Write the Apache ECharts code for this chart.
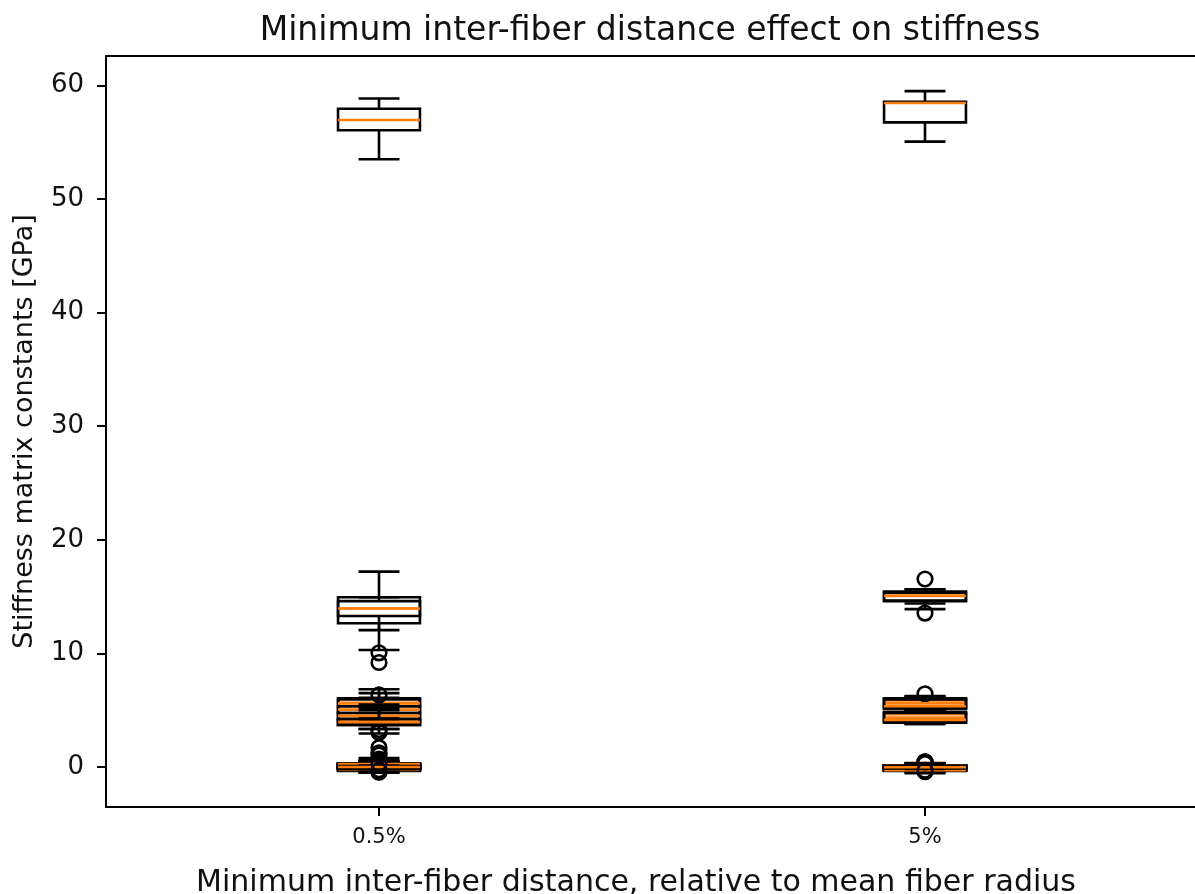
<!DOCTYPE html>
<html>
<head>
<meta charset="utf-8">
<script src="https://cdn.jsdelivr.net/npm/echarts@6/dist/echarts.min.js"></script>
<style>
  html, body { margin: 0; padding: 0; background: #ffffff; overflow: hidden; }
  #chart { width: 1195px; height: 894px; }
</style>
</head>
<body>
<div id="chart"></div>
<script>
// Minimum inter-fiber distance levels on the x axis
const categories = ['0.5%', '5%'];
const yTickValues = [0, 10, 20, 30, 40, 50, 60];

// Box statistics per stiffness constant: [lower whisker, Q1, median, Q3, upper whisker] in GPa
// Order: C11, C22, C33, C12, C13, C23, C44, C55, C66, then the twelve coupling terms
const summary05 = [
  [53.5, 56.05, 56.95, 57.95, 58.85],
  [12.05, 12.65, 13.95, 14.95, 17.2],
  [10.3, 13.3, 13.95, 14.6, 14.95],
  [4.3, 5.35, 5.65, 6.05, 6.85],
  [4.1, 4.75, 5.6, 5.95, 6.5],
  [3.7, 4.2, 5.05, 5.35, 6.1],
  [3.35, 3.7, 4.5, 4.75, 5.5],
  [2.95, 3.7, 3.95, 4.2, 5.0],
  [3.35, 3.75, 3.95, 4.25, 5.2],
  [-0.45, -0.35, -0.3, 0.3, 0.8],
  [-0.5, -0.3, -0.2, 0.25, 0.6],
  [-0.3, -0.2, -0.12, 0.2, 0.45],
  [-0.35, -0.15, -0.05, 0.15, 0.4],
  [-0.2, -0.1, 0.0, 0.12, 0.25],
  [-0.25, -0.05, 0.05, 0.15, 0.3],
  [-0.15, 0.0, 0.1, 0.2, 0.35],
  [-0.4, 0.05, 0.15, 0.25, 0.55],
  [-0.1, 0.1, 0.2, 0.3, 0.4],
  [-0.3, -0.25, -0.2, 0.0, 0.3],
  [-0.2, -0.15, 0.25, 0.3, 0.5],
  [-0.12, -0.08, 0.0, 0.08, 0.12]
];
const outliers05 = [
  [], [], [10.05, 9.2],
  [3.3, 3.05], [], [6.35], [], [], [],
  [1.25, 1.7], [], [0.7, 1.05], [-0.45], [0.45, -0.4], [0.55],
  [0.35, -0.3], [], [0.25, -0.25], [], [-0.35], [0.3, -0.28]
];

const summary5 = [
  [55.05, 56.75, 58.45, 58.55, 59.5],
  [13.9, 14.6, 15.1, 15.45, 15.65],
  [14.4, 14.65, 15.05, 15.35, 15.65],
  [5.05, 5.15, 5.85, 6.05, 6.25],
  [5.05, 5.2, 5.6, 6.0, 6.2],
  [5.0, 5.15, 5.35, 5.95, 6.15],
  [3.8, 3.95, 4.65, 4.85, 5.0],
  [3.8, 3.9, 4.35, 4.8, 4.95],
  [3.85, 4.0, 4.15, 4.75, 5.0],
  [-0.55, -0.35, -0.3, 0.15, 0.35],
  [-0.45, -0.3, -0.25, 0.1, 0.3],
  [-0.4, -0.3, -0.2, 0.05, 0.25],
  [-0.35, -0.25, -0.15, 0.1, 0.25],
  [-0.3, -0.2, -0.1, 0.08, 0.2],
  [-0.3, -0.15, -0.05, 0.12, 0.28],
  [-0.25, -0.1, 0.0, 0.15, 0.25],
  [-0.2, -0.05, 0.05, 0.15, 0.2],
  [-0.2, -0.25, 0.1, 0.15, 0.25],
  [-0.25, -0.3, -0.28, 0.1, 0.22],
  [-0.15, -0.1, -0.08, -0.02, 0.1],
  [-0.18, -0.12, -0.02, 0.05, 0.16]
];
const outliers5 = [
  [], [16.55], [13.55],
  [6.45], [], [], [], [], [],
  [0.4], [-0.4], [0.45], [-0.35], [0.3, -0.3], [],
  [0.35], [-0.35], [], [0.45], [], [-0.3]
];

const FONT = 'DejaVu Sans';
const TEXT = '#111111';
const LINE_W = 2.6;
const BOX_FRACTION = 0.15;   // box width relative to category spacing
const FLIER_R = 7.3;

// Flatten into one row per box: [category index, lo, q1, med, q3, hi]
const boxRows = [];
const boxOutliers = [];
[[summary05, outliers05], [summary5, outliers5]].forEach(function (pair, ci) {
  pair[0].forEach(function (row, i) {
    boxRows.push([ci].concat(row));
    boxOutliers.push(pair[1][i]);
  });
});

function renderBox(params, api) {
  const ci = api.value(0);
  const band = api.size([1, 0])[0];
  const half = band * BOX_FRACTION / 2;
  const capHalf = half / 2;
  const x = api.coord([ci, 0])[0];
  const yOf = function (v) { return api.coord([ci, v])[1]; };
  const lo = yOf(api.value(1));
  const q1 = yOf(api.value(2));
  const med = yOf(api.value(3));
  const q3 = yOf(api.value(4));
  const hi = yOf(api.value(5));
  const seg = function (x1, y1, x2, y2, color) {
    return { type: 'line', shape: { x1: x1, y1: y1, x2: x2, y2: y2 },
             style: { stroke: color, lineWidth: LINE_W, lineCap: 'butt' } };
  };
  const children = [
    seg(x, q1, x, lo, '#000'),
    seg(x, q3, x, hi, '#000'),
    seg(x - capHalf, lo, x + capHalf, lo, '#000'),
    seg(x - capHalf, hi, x + capHalf, hi, '#000'),
    { type: 'rect', shape: { x: x - half, y: q3, width: 2 * half, height: q1 - q3 },
      style: { fill: 'none', stroke: '#000', lineWidth: LINE_W, lineJoin: 'miter' } },
    seg(x - half, med, x + half, med, '#ff7f0e')
  ];
  boxOutliers[params.dataIndex].forEach(function (v) {
    children.push({ type: 'circle', shape: { cx: x, cy: yOf(v), r: FLIER_R },
                    style: { fill: 'none', stroke: '#000', lineWidth: LINE_W } });
  });
  return { type: 'group', children: children };
}

const spine = { show: true, onZero: false, lineStyle: { color: '#000', width: 2 } };

const chart = echarts.init(document.getElementById('chart'), null, { renderer: 'canvas' });
chart.setOption({
  animation: false,
  backgroundColor: '#ffffff',
  title: {
    text: 'Minimum inter-fiber distance effect on stiffness',
    left: 650,
    top: 15,
    textAlign: 'center',
    padding: 0,
    textStyle: { fontFamily: FONT, fontSize: 33, fontWeight: 'normal', color: TEXT }
  },
  grid: {
    left: 106, right: -3, top: 56, bottom: 87,
    outerBoundsMode: 'none',
    containLabel: false,
    show: false
  },
  xAxis: [{
    type: 'category',
    data: categories,
    name: 'Minimum inter-fiber distance, relative to mean fiber radius',
    nameLocation: 'middle',
    nameGap: 61,
    nameTextStyle: { fontFamily: FONT, fontSize: 30, color: TEXT, padding: [0, 32, 0, 0] },
    axisLine: spine,
    axisTick: { show: true, alignWithLabel: true, length: 9, lineStyle: { color: '#000', width: 2 } },
    axisLabel: { fontFamily: FONT, fontSize: 21, color: TEXT, margin: 20 },
    splitLine: { show: false }
  }, {
    // top spine of the plot frame
    type: 'category',
    data: categories,
    position: 'top',
    axisLine: spine,
    axisTick: { show: false },
    axisLabel: { show: false },
    splitLine: { show: false }
  }],
  yAxis: {
    type: 'value',
    min: -3.52,
    max: 62.59,
    name: 'Stiffness matrix constants [GPa]',
    nameLocation: 'middle',
    nameGap: 68,
    nameRotate: 90,
    nameTextStyle: { fontFamily: FONT, fontSize: 27, color: TEXT },
    axisLine: spine,
    axisTick: { show: true, length: 9, customValues: yTickValues, lineStyle: { color: '#000', width: 2 } },
    axisLabel: { fontFamily: FONT, fontSize: 26, color: TEXT, margin: 22, customValues: yTickValues },
    splitLine: { show: false }
  },
  series: [{
    type: 'custom',
    renderItem: renderBox,
    encode: { x: 0, y: [1, 2, 3, 4, 5] },
    data: boxRows,
    silent: true
  }]
});
</script>
</body>
</html>
